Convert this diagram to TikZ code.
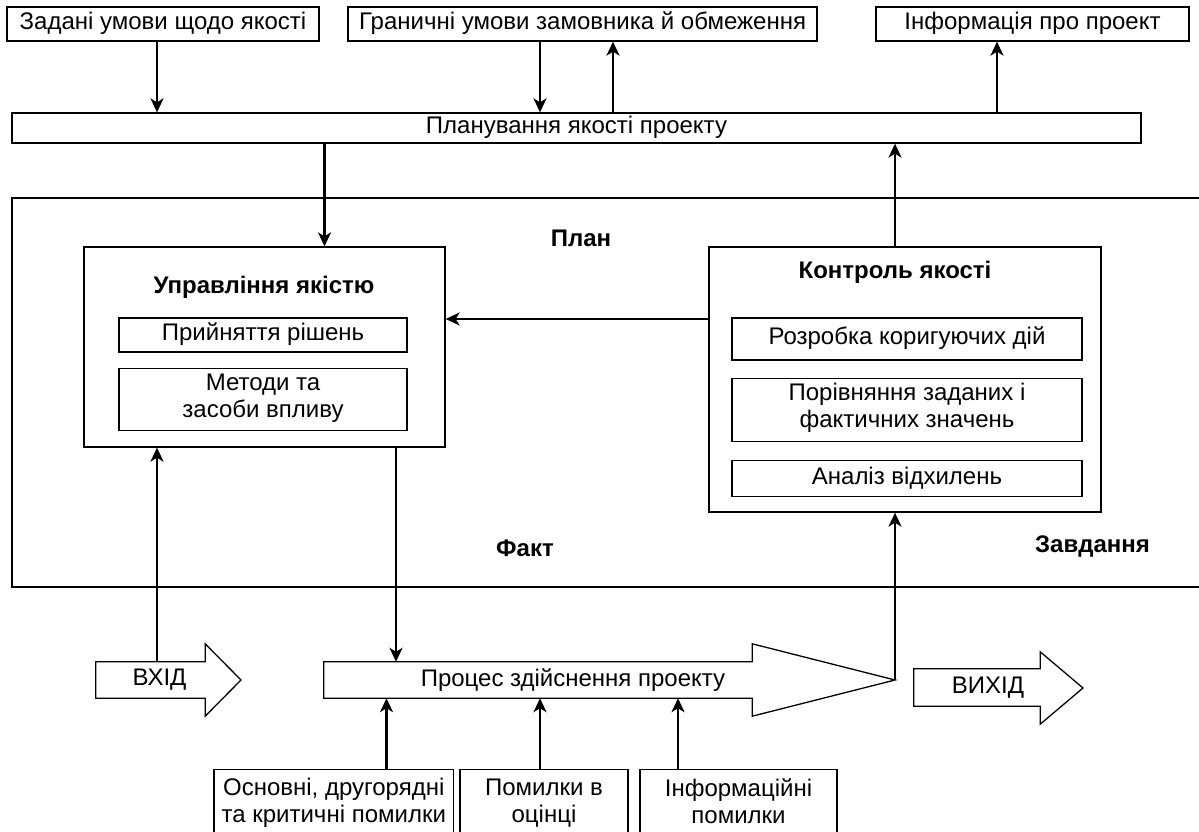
\documentclass[tikz,border=0pt]{standalone}
\usepackage{fontspec}
\setmainfont{Liberation Sans}
\usetikzlibrary{arrows.meta,positioning}

\begin{document}
\begin{tikzpicture}[x=1pt,y=-1pt,font=\fontsize{24}{27}\selectfont,
  box/.style={draw,line width=1.3pt,inner sep=0pt,align=center,
    execute at begin node=\strut,execute at end node=\strut},
  title/.style={font=\fontsize{24}{27}\selectfont\bfseries},
  shaft/.style={inner sep=0pt},
  arrowshape/.style={line width=1.3pt,line join=miter},
  link/.style={-{Stealth[length=14pt,width=13pt,inset=4pt]},line width=2.2pt}]

\useasboundingbox (0,0) rectangle (1199,832);

% top row
\node[box,minimum width=312,minimum height=34] (given)  at (163,24)    {Задані умови щодо якості};
\node[box,minimum width=469,minimum height=34] (limits) at (582.5,24)  {Граничні умови замовника й обмеження};
\node[box,minimum width=313,minimum height=34] (info)   at (1032.5,24) {Інформація про проект};
\node[box,minimum width=1129,minimum height=30] (plan)  at (576.5,128) {Планування якості проекту};

% frame
\draw[line width=1.3pt] (12,198) rectangle (1215,587);
\node[title] (plantxt) at (581,238)    {План};
\node[title] (facttxt) at (525,548)    {Факт};
\node[title] (tasktxt) at (1092.5,547) {Завдання};

% quality management
\node[box,minimum width=361,minimum height=200] (mgmt) at (264.5,347) {};
\node[title] (mgmttxt) at (264,287) {Управління якістю};
\node[box,minimum width=288,minimum height=34] (decide) at (263,335) {Прийняття рішень};
\node[box,minimum width=288,minimum height=62] (methods) [below=15pt of decide] {Методи та\\засоби впливу};

% quality control
\node[box,minimum width=392,minimum height=265] (ctrl) at (905,379.5) {};
\node[title] (ctrltxt) at (895,272) {Контроль якості};
\node[box,minimum width=350,minimum height=42] (correct) at (907,339) {Розробка коригуючих дій};
\node[box,minimum width=350,minimum height=63] (compare) [below=17pt of correct] {Порівняння заданих і\\фактичних значень};
\node[box,minimum width=350,minimum height=36] (analysis) [below=18pt of compare] {Аналіз відхилень};

% big arrows
\node[shaft,minimum width=109,minimum height=36] (vhid) at (150.5,680) {};
\coordinate (vhidtip) at (241,680);
\draw[arrowshape] (vhid.north west) -- (vhid.north east) -- ++(0,-18) -- (vhidtip)
  -- ([yshift=-18pt]vhid.south east) -- (vhid.south east) -- (vhid.south west) -- cycle;
\node (vhidtxt) at ([xshift=9pt]vhid.center) {ВХІД};

\node[shaft,minimum width=428,minimum height=36] (proc) at (538,680) {};
\coordinate (proctip) at (895,680);
\draw[arrowshape] (proc.north west) -- (proc.north east) -- ++(0,-18) -- (proctip)
  -- ([yshift=-18pt]proc.south east) -- (proc.south east) -- (proc.south west) -- cycle;
\node (proctxt) at ([xshift=35pt]proc.center) {Процес здійснення проекту};

\node[shaft,minimum width=126,minimum height=37] (vyhid) at (977,687.5) {};
\coordinate (vyhidtip) at (1083,688);
\draw[arrowshape] (vyhid.north west) -- (vyhid.north east) -- ++(0,-17) -- (vyhidtip)
  -- ([yshift=-18pt]vyhid.south east) -- (vyhid.south east) -- (vyhid.south west) -- cycle;
\node (vyhidtxt) at ([xshift=11pt]vyhid.center) {ВИХІД};

% errors
\node[box,minimum width=239.5,minimum height=70,anchor=north] (err1) at (333.75,769) {Основні, другорядні\\та критичні помилки};
\node[box,minimum width=168,minimum height=70,anchor=north] (err2) at (544,769) {Помилки в\\оцінці};
\node[box,minimum width=197,minimum height=70,anchor=north] (err3) at (738.5,769) {Інформаційні\\помилки};

% connectors
\draw[link] ([xshift=-6pt]given.south) -- ([xshift=-6pt]given.south |- plan.north);
\draw[link] ([xshift=-42.5pt]limits.south) -- ([xshift=-42.5pt]limits.south |- plan.north);
\draw[link] ([xshift=30.5pt]limits.south |- plan.north) -- ([xshift=30.5pt]limits.south);
\draw[link] ([xshift=-35.5pt]info.south |- plan.north) -- ([xshift=-35.5pt]info.south);
\draw[link] ([xshift=60pt]mgmt.north |- plan.south) -- ([xshift=60pt]mgmt.north);
\draw[link] ([xshift=-10pt]ctrl.north) -- ([xshift=-10pt]ctrl.north |- plan.south);
\draw[link] ([yshift=60.5pt]ctrl.west) -- ([yshift=60.5pt]ctrl.west -| mgmt.east);
\draw[link] ([xshift=6.5pt]vhid.north) -- ([xshift=6.5pt]vhid.north |- mgmt.south);
\draw[link] ([xshift=131.5pt]mgmt.south) -- ([xshift=131.5pt]mgmt.south |- proc.north);
\draw[link] (proctip) -- (proctip |- ctrl.south);
\draw[link] ([xshift=52.75pt]err1.north) -- ([xshift=52.75pt]err1.north |- proc.south);
\draw[link] ([xshift=-4pt]err2.north) -- ([xshift=-4pt]err2.north |- proc.south);
\draw[link] ([xshift=-60.5pt]err3.north) -- ([xshift=-60.5pt]err3.north |- proc.south);
\end{tikzpicture}
\end{document}
